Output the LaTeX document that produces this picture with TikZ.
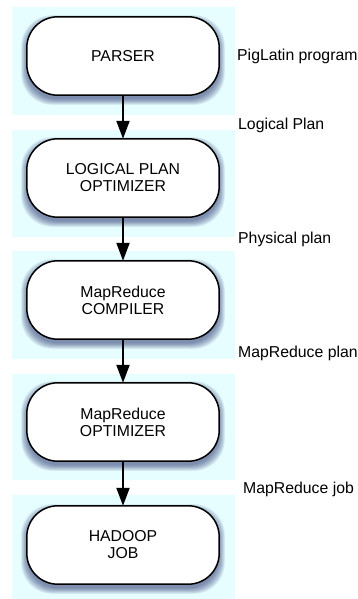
\documentclass[tikz,border=0pt]{standalone}
\usepackage{fontspec}
\setmainfont{Liberation Sans}
\usetikzlibrary{arrows.meta,backgrounds,calc}

\definecolor{panelc}{RGB}{230,254,255}
\definecolor{shadowc}{RGB}{40,50,110}

\tikzset{
  stage/.style={rectangle, minimum width=192pt, minimum height=78pt,
    inner sep=0pt, align=center, font=\fontsize{15.8}{17}\selectfont},
  note/.style={anchor=west, inner sep=0pt, font=\fontsize{15.8}{17}\selectfont},
  flow/.style={line width=2pt, -{Triangle[length=18pt,width=13pt]}},
  panel/.style={fill=panelc, draw=none},
  stageline/.style={draw=black, line width=1.5pt, fill=white, rounded corners=31pt},
}

\begin{document}
\begin{tikzpicture}[x=1pt,y=-1pt]
  \useasboundingbox (0,0) rectangle (358,599);

  % processing stages
  \node[stage] (parser) at (123,56)  {PARSER};
  \node[stage] (lpo)    at (123,178) {LOGICAL PLAN\\OPTIMIZER};
  \node[stage] (mrc)    at (123,300) {MapReduce\\COMPILER};
  \node[stage] (mro)    at (123,422) {MapReduce\\OPTIMIZER};
  \node[stage] (job)    at (123,545) {HADOOP\\JOB};

  \begin{scope}[on background layer]
    % tinted bands behind each stage
    \fill[panel] (12,7)   rectangle (235,115);
    \fill[panel] (12,130) rectangle (235,237);
    \fill[panel] (12,251) rectangle (235,359);
    \fill[panel] (12,374) rectangle (235,480);
    \fill[panel] (12,495) rectangle (235,599);
    % soft shadows and rounded outlines
    \foreach \n in {parser,lpo,mrc,mro,job}{
      \foreach \k in {0,...,7}{
        \pgfmathsetmacro{\d}{\k*0.8}
        \fill[shadowc, opacity=0.09, rounded corners=31pt]
          ($(\n.north west)+(-\d,4-\d)$) rectangle ($(\n.south east)+(\d,4+\d)$);
      }
      \path[stageline] (\n.north west) rectangle (\n.south east);
    }
  \end{scope}

  % data passed between stages
  \draw[flow] (parser) -- (lpo);
  \draw[flow] (lpo) -- (mrc);
  \draw[flow] (mrc) -- (mro);
  \draw[flow] (mro) -- (job);

  \node[note] (n1) at (237,56)  {PigLatin program};
  \node[note] (n2) at (238,125) {Logical Plan};
  \node[note] (n3) at (238,239) {Physical plan};
  \node[note] (n4) at (238,353) {MapReduce plan};
  \node[note] (n5) at (243,489) {MapReduce job};
\end{tikzpicture}
\end{document}
